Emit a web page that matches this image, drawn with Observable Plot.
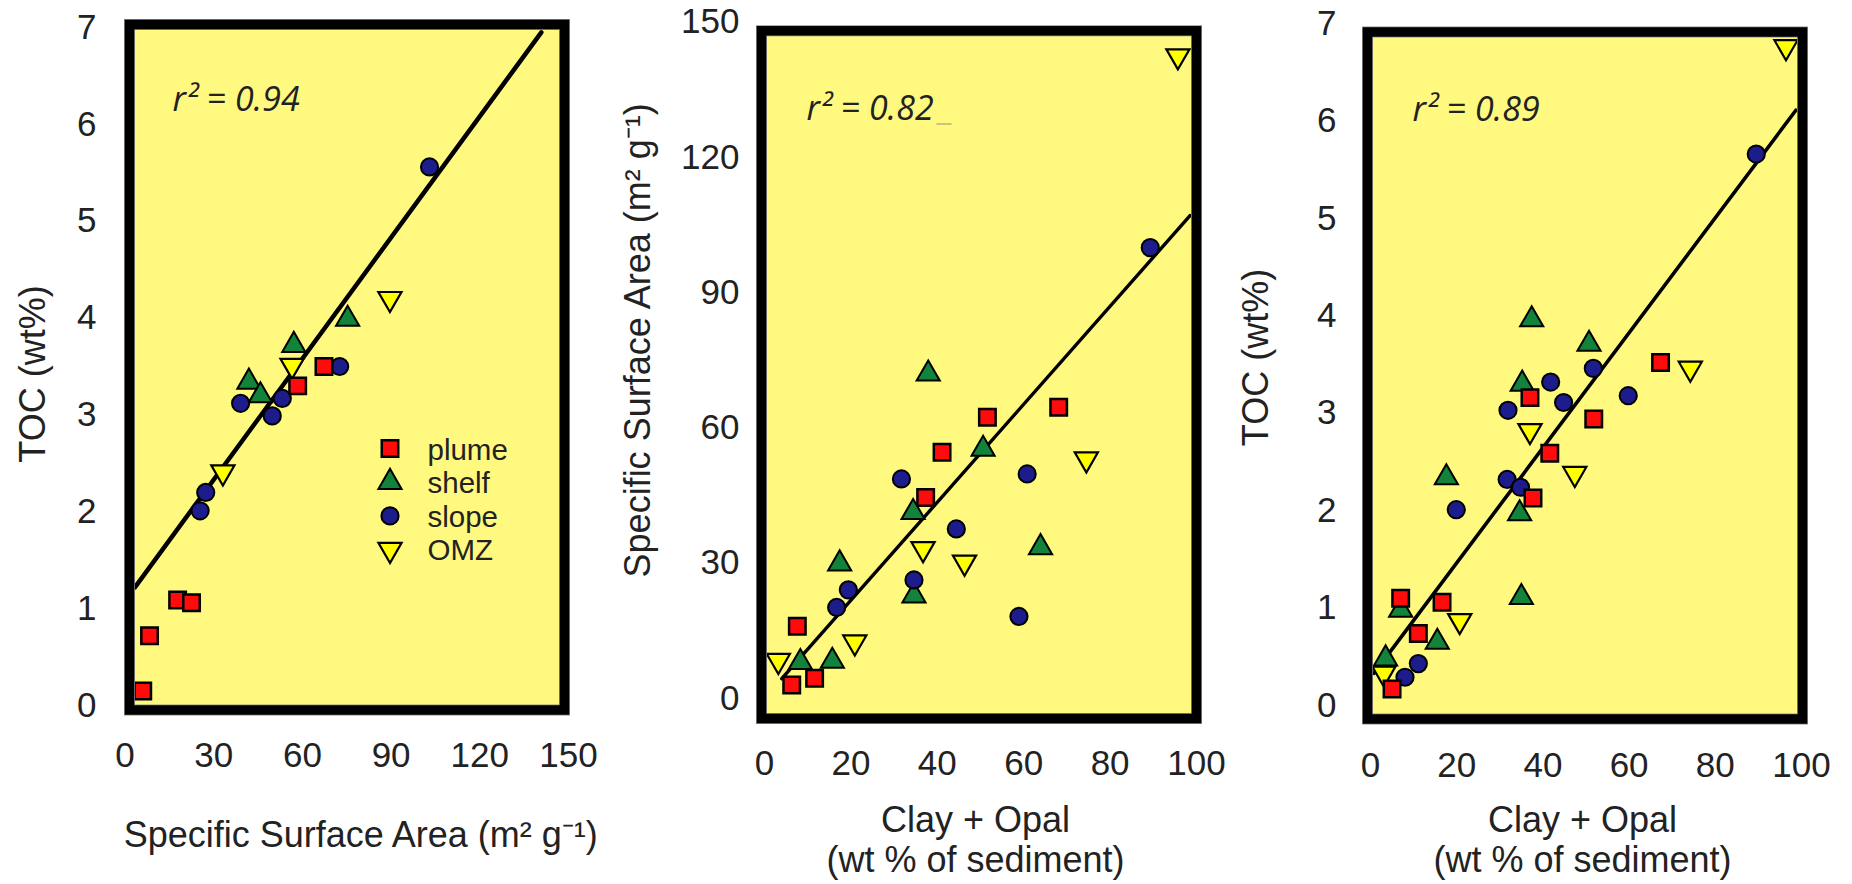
<!DOCTYPE html>
<html><head><meta charset="utf-8">
<script src="https://cdn.jsdelivr.net/npm/d3@7"></script>
<script src="https://cdn.jsdelivr.net/npm/@observablehq/plot@0.6"></script>
<style>
html,body{margin:0;padding:0;background:#fff;}
#wrap{position:relative;width:1852px;height:884px;overflow:hidden;background:#fff;}
#wrap > svg{position:absolute;top:0;}
</style></head><body><div id="wrap"></div>
<script>
// ---------- data ----------
const seriesNames = ["plume", "shelf", "slope", "OMZ"];

// Panel 1: TOC (wt%) vs Specific Surface Area
const ssaTocPlume = [[6.0,0.15],[8.3,0.72],[17.8,1.09],[22.5,1.06],[58.4,3.30],[67.3,3.50]];
const ssaTocShelf = [[41.9,3.34],[45.8,3.20],[57.1,3.72],[75.3,3.99]];
const ssaTocSlope = [[25.4,2.01],[27.3,2.20],[39.1,3.12],[49.8,2.99],[53.2,3.17],[72.6,3.50],[103.0,5.56]];
const ssaTocOMZ   = [[33.1,2.41],[56.5,3.51],[89.6,4.20]];
const ssaTocFit   = [[3.35,1.22],[140.8,6.95]];
const ssaTocR2 = "0.94";
const ssaTicks = [0,30,60,90,120,150];
const tocTicks = [0,1,2,3,4,5,6,7];

// Panel 2: SSA vs Clay + Opal
const coSsaPlume = [[6.3,3.0],[11.6,4.5],[7.6,16.0],[37.3,44.6],[41.1,54.6],[51.6,62.4],[68.1,64.6]];
const coSsaShelf = [[8.3,8.0],[15.7,8.3],[17.4,29.9],[34.6,22.8],[34.4,41.3],[50.6,55.3],[63.9,33.5],[37.9,72.0]];
const coSsaSlope = [[16.7,20.2],[19.4,24.1],[31.7,48.7],[34.6,26.3],[44.4,37.6],[58.9,18.2],[60.8,49.8],[89.3,100.0]];
const coSsaOMZ   = [[3.2,8.4],[20.9,12.5],[36.7,33.2],[46.3,30.2],[74.5,53.1],[95.7,142.5]];
const coSsaFit   = [[4.0,4.4],[98.5,107.1]];
const coSsaR2 = "0.82";
const coTicks = [0,20,40,60,80,100];
const ssaYTicks = [0,30,60,90,120,150];

// Panel 3: TOC vs Clay + Opal
const coTocPlume = [[5.0,0.17],[11.1,0.74],[7.0,1.10],[16.6,1.06],[37.7,2.13],[41.6,2.59],[51.8,2.94],[37.0,3.16],[67.3,3.52]];
const coTocShelf = [[3.5,0.48],[7.0,0.98],[15.5,0.65],[17.6,2.34],[35.0,1.11],[34.6,1.97],[35.2,3.30],[37.4,3.96],[50.7,3.71]];
const coTocSlope = [[8.0,0.29],[11.1,0.43],[19.9,2.01],[31.7,2.32],[34.8,2.24],[31.9,3.03],[41.8,3.32],[44.8,3.11],[51.7,3.46],[59.8,3.18],[89.5,5.66]];
const coTocOMZ   = [[3.1,0.33],[20.7,0.87],[47.4,2.38],[37.0,2.82],[74.2,3.46],[96.4,6.76]];
const coTocFit   = [[0.8,0.33],[98.7,6.11]];
const coTocR2 = "0.89";

const labelSSA = "Specific Surface Area (m\u00B2 g\u207B\u00B9)";
const labelTOC = "TOC (wt%)";
const labelCO = "Clay + Opal\n(wt % of sediment)";

// ---------- styling ----------
const downTriangle = {
  draw(context, size) {
    const s3 = Math.sqrt(3);
    const y = Math.sqrt(size / (s3 * 3));
    context.moveTo(0, y * 2);
    context.lineTo(-s3 * y, -y);
    context.lineTo(s3 * y, -y);
    context.closePath();
  }
};
const look = {
  plume: {symbol: "square", fill: "#ff0b0b", r: 9.3, strokeWidth: 2.5},
  shelf: {symbol: "triangle", fill: "#13823a", r: 8.6, strokeWidth: 2},
  slope: {symbol: "circle", fill: "#1c1c8c", r: 8.6, strokeWidth: 2},
  OMZ:   {symbol: downTriangle, fill: "#ffff00", r: 8.6, strokeWidth: 2.2}
};
const yellow = "#fff97f";
const ink = "#222";
const italicFont = "'Open Sans', 'Noto Sans', sans-serif";
const textFont = "'Liberation Sans', Arial, sans-serif";

function pointMarks(sets) {
  // drawing order: OMZ, shelf, slope, plume (plume on top)
  const order = ["OMZ", "shelf", "slope", "plume"];
  return order.map(name => Plot.dot(sets[name], {
    x: d => d[0], y: d => d[1],
    symbol: look[name].symbol, r: look[name].r,
    fill: look[name].fill, stroke: "#000", strokeWidth: look[name].strokeWidth
  }));
}

function panel(o) {
  const insets = {insetLeft: o.ins[0], insetRight: o.ins[1], insetTop: o.ins[2], insetBottom: o.ins[3]};
  const marks = [
    Plot.frame({fill: yellow, stroke: "none", ...insets}),
    Plot.line(o.fit, {x: d => d[0], y: d => d[1], stroke: "#000", strokeWidth: o.fitWidth}),
    ...pointMarks(o.sets),
    Plot.text([`r\u00B2 = ${o.r2}`], {text: d => d, frameAnchor: "top-left", textAnchor: "start",
      dx: o.r2pos[0], dy: o.r2pos[1], fontSize: 34, fontStyle: "italic", fontFamily: italicFont, fill: ink}),
    ...(o.extra || []),
    Plot.frame({stroke: "#8d8d8d", strokeWidth: 11, ...insets}),
    Plot.frame({stroke: "#000", strokeWidth: 9.5, ...insets}),
    Plot.text([o.ylabel], {text: d => d, frameAnchor: "left", textAnchor: "middle", lineAnchor: "middle",
      rotate: -90, dx: o.ylab[0], dy: o.ylab[1], fontSize: 36, fontFamily: textFont, fill: ink}),
    Plot.text([o.xlabel], {text: d => d, frameAnchor: "bottom", textAnchor: "middle", lineAnchor: "top",
      dx: o.xlab[0], dy: o.xlab[1], fontSize: 36, lineHeight: 1.12, fontFamily: textFont, fill: ink})
  ];
  const svg = Plot.plot({
    width: o.width, height: 884,
    marginLeft: o.m[0], marginRight: o.m[1], marginTop: o.m[2], marginBottom: o.m[3],
    x: {domain: o.xDomain, ticks: o.xTicks, tickFormat: d => String(d), tickSize: 0, tickPadding: o.xPad, label: null},
    y: {domain: o.yDomain, ticks: o.yTicks, tickFormat: d => String(d), tickSize: 0, tickPadding: o.yPad, label: null},
    style: {fontFamily: textFont, fontSize: "35px", color: ink, background: "transparent"},
    marks
  });
  svg.style.left = o.left + "px";
  document.getElementById("wrap").appendChild(svg);
}

// legend for panel 1 (inside the frame)
const legendMarks = [];
seriesNames.forEach((name, i) => {
  legendMarks.push(Plot.dot([name], {frameAnchor: "top-left", dx: 265, dy: 421 + i * 33.7,
    symbol: look[name].symbol, r: look[name].r, fill: look[name].fill,
    stroke: "#000", strokeWidth: look[name].strokeWidth}));
  legendMarks.push(Plot.text([name], {text: d => d, frameAnchor: "top-left", textAnchor: "start",
    lineAnchor: "middle", dx: 302.5, dy: 423 + i * 33.4, fontSize: 29.5, fontFamily: textFont, fill: ink}));
});

panel({
  left: 0, width: 620, m: [124.5, 52, 27, 179],
  xDomain: [0, 150], yDomain: [0, 7], xTicks: ssaTicks, yTicks: tocTicks, xPad: 37, yPad: 28.5,
  ins: [4.5, 4, -3, -4.5],
  sets: {plume: ssaTocPlume, shelf: ssaTocShelf, slope: ssaTocSlope, OMZ: ssaTocOMZ},
  fit: ssaTocFit, fitWidth: 4.5, r2: ssaTocR2, r2pos: [47.5, 59],
  ylabel: labelTOC, ylab: [-91.5, 7.5], xlabel: labelSSA, xlab: [14, 113],
  extra: legendMarks
});

panel({
  left: 590, width: 642, m: [174, 36, 21.7, 186],
  xDomain: [0, 100], yDomain: [0, 150], xTicks: coTicks, yTicks: ssaYTicks, xPad: 52, yPad: 25,
  ins: [-3, 0, 8.6, -20],
  sets: {plume: coSsaPlume, shelf: coSsaShelf, slope: coSsaSlope, OMZ: coSsaOMZ},
  fit: coSsaFit, fitWidth: 3.4, r2: coSsaR2, r2pos: [42, 74],
  ylabel: labelSSA, ylab: [-126, -20], xlabel: labelCO, xlab: [-5, 104.4],
  extra: [Plot.text(["_"], {text: d => d, frameAnchor: "top-left", textAnchor: "start",
    dx: 172, dy: 74, fontSize: 34, fontFamily: italicFont, fill: "#cbc27c"})]
});

panel({
  left: 1200, width: 652, m: [170, 51, 23, 179],
  xDomain: [0, 100], yDomain: [0, 7], xTicks: coTicks, yTicks: tocTicks, xPad: 47, yPad: 34,
  ins: [-3, -1, 8.5, -13.5],
  sets: {plume: coTocPlume, shelf: coTocShelf, slope: coTocSlope, OMZ: coTocOMZ},
  fit: coTocFit, fitWidth: 3.6, r2: coTocR2, r2pos: [42, 73],
  ylabel: labelTOC, ylab: [-114, -7], xlabel: labelCO, xlab: [-3.5, 97.4]
});
</script></body></html>
